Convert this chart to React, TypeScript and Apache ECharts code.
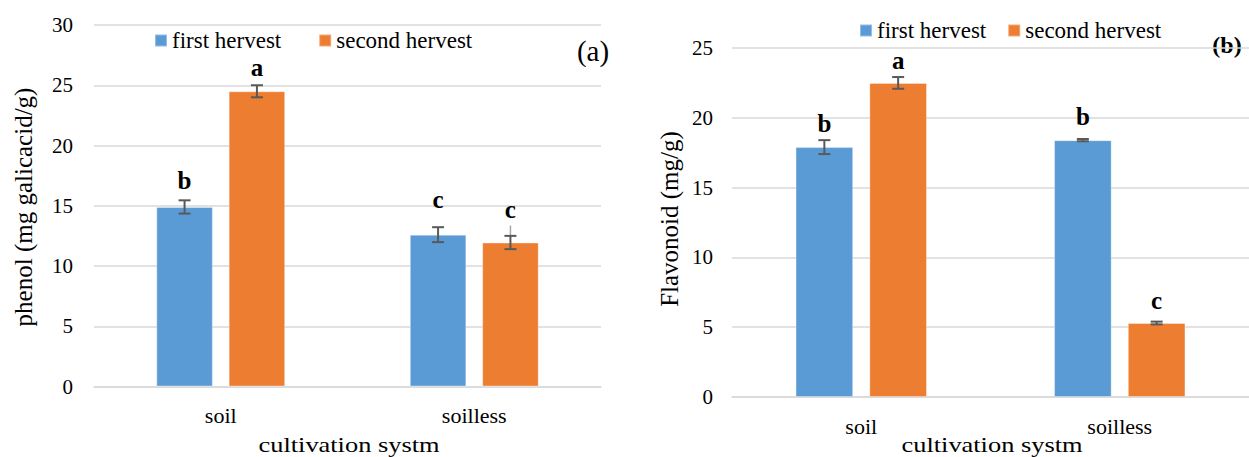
import React, { useEffect, useRef } from "react";
import * as echarts from "echarts";

const categories = ["soil", "soilless"];
const seriesNames = ["first hervest", "second hervest"];

// (a) phenol
const phenolFirst = [14.9, 12.6];
const phenolSecond = [24.5, 11.95];
const phenolFirstErr = [0.55, 0.62];
const phenolSecondErr = [0.5, 0.55];
const phenolSecondErrExtra = [0, 0.85];
const phenolFirstLetters = ["b", "c"];
const phenolSecondLetters = ["a", "c"];
const phenolFirstLetterY = [17.1, 15.5];
const phenolSecondLetterY = [26.5, 14.7];

// (b) flavonoid
const flavFirst = [17.9, 18.4];
const flavSecond = [22.5, 5.3];
const flavFirstErr = [0.5, 0.08];
const flavSecondErr = [0.42, 0.1];
const flavFirstLetters = ["b", "b"];
const flavSecondLetters = ["a", "c"];
const flavFirstLetterY = [19.6, 20.1];
const flavSecondLetterY = [24.1, 6.9];

const phenolAxis = { min: 0, max: 30, interval: 5 };
const flavAxis = { min: 0, max: 25, interval: 5 };

const FONT = "'Liberation Serif', 'Times New Roman', serif";
const BLUE = "#5B9BD5";
const ORANGE = "#ED7D31";
const GRID = "#d9d9d9";
const ERR = "#595959";
const BAR_W = 0.223;
const BAR_GAP = 0.28;
const OFFSET = (BAR_W * (1 + BAR_GAP)) / 2;

function errSeries(
  axisIdx: number,
  values: number[],
  errs: number[],
  letters: string[],
  letterY: number[],
  sign: number,
  extra?: number[]
) {
  return {
    type: "custom",
    xAxisIndex: axisIdx,
    yAxisIndex: axisIdx,
    z: 5,
    silent: true,
    data: values.map((v, i) => [i, v, errs[i]]),
    renderItem: (params: any, api: any) => {
      const i = params.dataIndex;
      const ci = api.value(0);
      const v = api.value(1);
      const e = api.value(2);
      const band = api.size([1, 0])[0];
      const off = sign * band * OFFSET;
      const top = api.coord([ci, v + e]);
      const bot = api.coord([ci, v - e]);
      const x = top[0] + off;
      const cap = 6;
      const ls = { stroke: ERR, lineWidth: 2 };
      const children: any[] = [];
      if (extra && extra[i] > 0) {
        const ex = api.coord([ci, v + e + extra[i]]);
        children.push({
          type: "line",
          shape: { x1: x, y1: ex[1], x2: x, y2: top[1] },
          style: { stroke: "#a6a6a6", lineWidth: 1.5 },
        });
      }
      children.push(
        { type: "line", shape: { x1: x, y1: top[1], x2: x, y2: bot[1] }, style: ls },
        { type: "line", shape: { x1: x - cap, y1: top[1], x2: x + cap, y2: top[1] }, style: ls },
        { type: "line", shape: { x1: x - cap, y1: bot[1], x2: x + cap, y2: bot[1] }, style: ls }
      );
      const lp = api.coord([ci, letterY[i]]);
      children.push({
        type: "text",
        style: {
          text: letters[i],
          x: lp[0] + off,
          y: lp[1],
          textAlign: "center",
          textVerticalAlign: "middle",
          font: `bold 25px ${FONT}`,
          fill: "#000",
        },
      });
      return { type: "group", children };
    },
  };
}

function barSeries(axisIdx: number, name: string, data: number[], color: string) {
  return {
    type: "bar",
    name,
    xAxisIndex: axisIdx,
    yAxisIndex: axisIdx,
    data,
    barWidth: `${BAR_W * 100}%`,
    barGap: `${BAR_GAP * 100}%`,
    itemStyle: { color, borderColor: "rgba(255,255,255,0.35)", borderWidth: 1 },
  };
}

function xAxis(idx: number) {
  return {
    type: "category",
    gridIndex: idx,
    data: categories,
    axisLine: { show: true, lineStyle: { color: GRID, width: 1.5 } },
    axisTick: { show: false },
    axisLabel: { color: "#000", fontSize: 22, fontFamily: FONT, margin: 18 },
  };
}

function yAxis(idx: number, ax: { min: number; max: number; interval: number }, margin: number) {
  return {
    type: "value",
    gridIndex: idx,
    min: ax.min,
    max: ax.max,
    interval: ax.interval,
    axisLine: { show: false },
    axisTick: { show: false },
    axisLabel: { color: "#000", fontSize: 21, fontFamily: FONT, margin },
    splitLine: { show: true, lineStyle: { color: GRID, width: 1.5 } },
  };
}

export default function App() {
  const ref = useRef<HTMLDivElement>(null);
  useEffect(() => {
    if (!ref.current) return;
    const chart = echarts.init(ref.current, undefined, { renderer: "svg" });
    chart.setOption({
      animation: false,
      backgroundColor: "#fff",
      color: [BLUE, ORANGE],
      grid: [
        { left: 94, top: 25, width: 507, bottom: 70.5 },
        { left: 732, top: 48, width: 520, bottom: 60 },
      ],
      legend: [
        {
          left: 154,
          top: 29,
          padding: 0,
          itemWidth: 12,
          itemHeight: 12,
          itemGap: 37,
          icon: "rect",
          data: seriesNames,
          textStyle: { fontSize: 23, fontFamily: FONT, color: "#000" },
        },
        {
          left: 859,
          top: 19,
          padding: 0,
          itemWidth: 12,
          itemHeight: 12,
          itemGap: 21,
          icon: "rect",
          data: seriesNames,
          textStyle: { fontSize: 23, fontFamily: FONT, color: "#000" },
        },
      ],
      xAxis: [xAxis(0), xAxis(1)],
      yAxis: [yAxis(0, phenolAxis, 21), yAxis(1, flavAxis, 19)],
      series: [
        barSeries(0, seriesNames[0], phenolFirst, BLUE),
        barSeries(0, seriesNames[1], phenolSecond, ORANGE),
        barSeries(1, seriesNames[0], flavFirst, BLUE),
        barSeries(1, seriesNames[1], flavSecond, ORANGE),
        errSeries(0, phenolFirst, phenolFirstErr, phenolFirstLetters, phenolFirstLetterY, -1),
        errSeries(0, phenolSecond, phenolSecondErr, phenolSecondLetters, phenolSecondLetterY, 1, phenolSecondErrExtra),
        errSeries(1, flavFirst, flavFirstErr, flavFirstLetters, flavFirstLetterY, -1),
        errSeries(1, flavSecond, flavSecondErr, flavSecondLetters, flavSecondLetterY, 1),
      ],
      graphic: [
        {
          type: "text",
          x: 23,
          y: 207,
          rotation: Math.PI / 2,
          style: {
            text: "phenol (mg galicacid/g)",
            font: `25px ${FONT}`,
            fill: "#000",
            textAlign: "center",
            textVerticalAlign: "middle",
          },
        },
        {
          type: "text",
          x: 669,
          y: 219,
          rotation: Math.PI / 2,
          style: {
            text: "Flavonoid (mg/g)",
            font: `25px ${FONT}`,
            fill: "#000",
            textAlign: "center",
            textVerticalAlign: "middle",
          },
        },
        {
          type: "text",
          x: 349,
          y: 444,
          scaleX: 1.2,
          style: {
            text: "cultivation systm",
            font: `22px ${FONT}`,
            fill: "#000",
            textAlign: "center",
            textVerticalAlign: "middle",
          },
        },
        {
          type: "text",
          x: 992,
          y: 444,
          scaleX: 1.2,
          style: {
            text: "cultivation systm",
            font: `22px ${FONT}`,
            fill: "#000",
            textAlign: "center",
            textVerticalAlign: "middle",
          },
        },
        {
          type: "text",
          x: 593,
          y: 51,
          style: {
            text: "(a)",
            font: `29px ${FONT}`,
            fill: "#000",
            textAlign: "center",
            textVerticalAlign: "middle",
          },
        },
        {
          type: "text",
          x: 1227,
          y: 45,
          style: {
            text: "(b)",
            font: `bold 24px ${FONT}`,
            fill: "#000",
            textAlign: "center",
            textVerticalAlign: "middle",
          },
        },
      ],
    });
    return () => chart.dispose();
  }, []);
  return (
    <div
      ref={ref}
      style={{ position: "fixed", left: 0, top: 0, width: 1249, height: 457 }}
    />
  );
}
